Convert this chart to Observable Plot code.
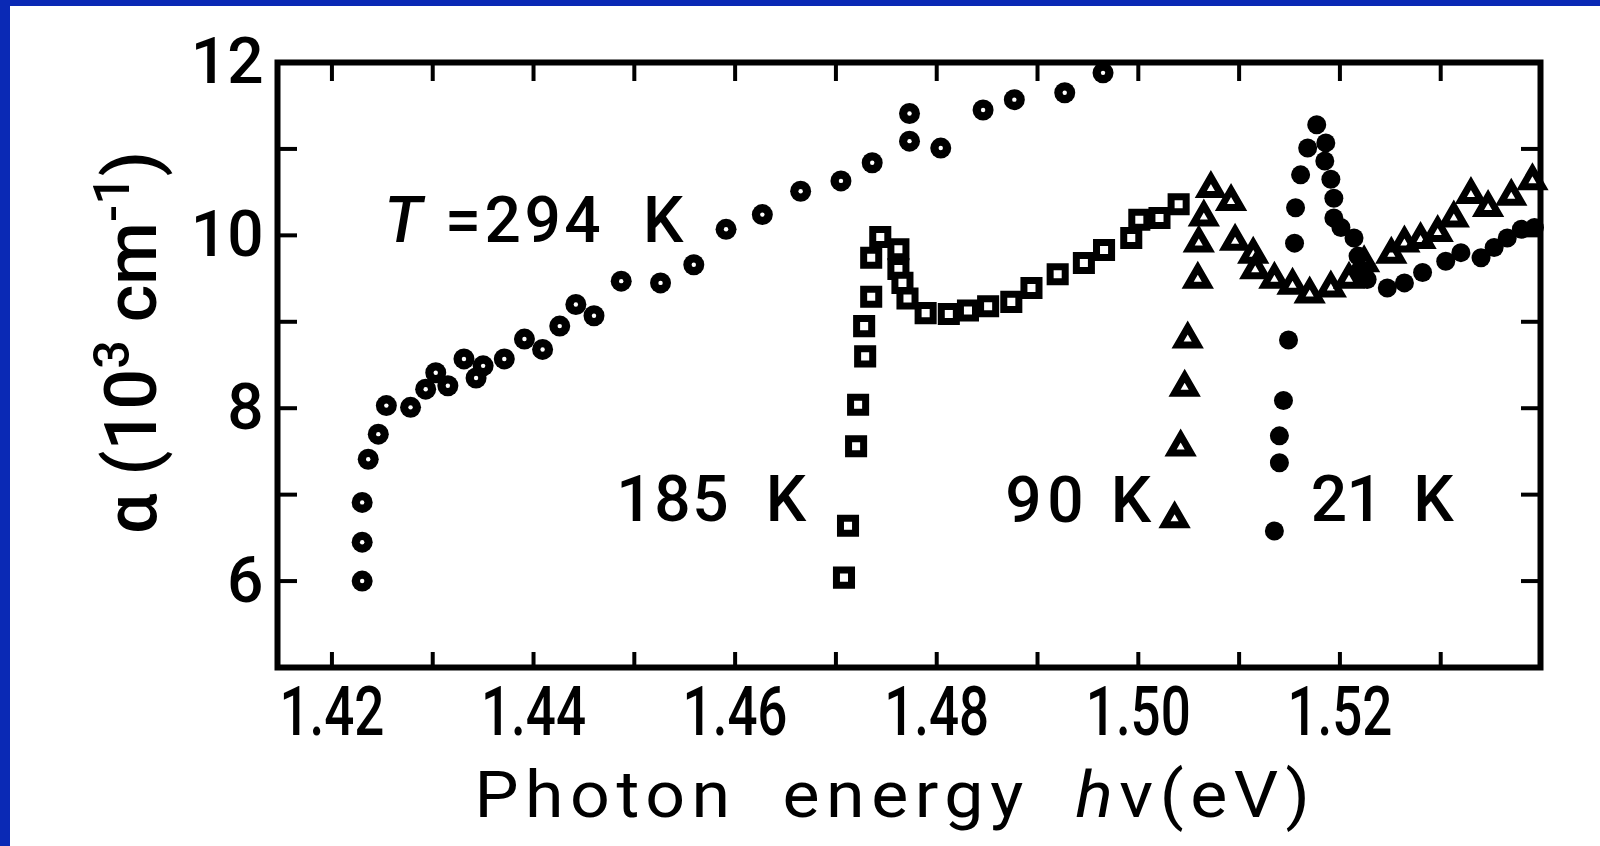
<!DOCTYPE html>
<html><head><meta charset="utf-8">
<script src="https://cdn.jsdelivr.net/npm/d3@7"></script>
<script src="https://cdn.jsdelivr.net/npm/@observablehq/plot@0.6"></script>
<style>
html,body{margin:0;padding:0;background:#0a29b5;width:1600px;height:846px;overflow:hidden;}
#chart{position:absolute;left:10px;top:6px;width:1590px;height:840px;background:#fff;}
</style></head><body><div id="chart"></div>
<script>
// T = 294 K (ring circles)
const x294 = [1.4230,1.4230,1.4230,1.4236,1.4246,1.4254,1.4278,1.4293,1.4303,1.4315,1.4331,1.4343,1.4350,1.4371,1.4391,1.4409,1.4426,1.4442,1.4460,1.4487,1.4526,1.4559,1.4591,1.4627,1.4665,1.4705,1.4736,1.4773,1.4773,1.4804,1.4846,1.4877,1.4927,1.4965];
const y294 = [6.00,6.45,6.91,7.41,7.70,8.03,8.01,8.22,8.41,8.26,8.57,8.35,8.49,8.57,8.80,8.68,8.95,9.20,9.07,9.47,9.45,9.66,10.07,10.24,10.51,10.63,10.84,11.09,11.41,11.01,11.45,11.57,11.65,11.88];
// 185 K (open squares)
const x185 = [1.4708,1.4712,1.4720,1.4722,1.4729,1.4728,1.4735,1.4735,1.4744,1.4762,1.4762,1.4766,1.4771,1.4789,1.4812,1.4831,1.4851,1.4874,1.4894,1.4920,1.4946,1.4966,1.4993,1.5001,1.5021,1.5040];
const y185 = [6.04,6.64,7.56,8.04,8.60,8.95,9.29,9.74,9.98,9.84,9.61,9.45,9.27,9.10,9.09,9.13,9.18,9.23,9.39,9.55,9.68,9.83,9.97,10.18,10.20,10.36];
// 90 K (open triangles)
const x90 = [1.5036,1.5042,1.5046,1.5049,1.5059,1.5060,1.5065,1.5072,1.5092,1.5096,1.5114,1.5116,1.5135,1.5153,1.5170,1.5191,1.5209,1.5224,1.5251,1.5264,1.5280,1.5297,1.5313,1.5330,1.5347,1.5370,1.5391];
const y90 = [6.72,7.55,8.24,8.80,9.49,9.91,10.21,10.54,10.39,9.93,9.78,9.60,9.49,9.42,9.32,9.39,9.49,9.68,9.78,9.91,9.95,10.03,10.20,10.47,10.32,10.45,10.63];
// 21 K (filled dots)
const x21 = [1.5135,1.5140,1.5140,1.5144,1.5149,1.5155,1.5156,1.5161,1.5168,1.5177,1.5186,1.5185,1.5191,1.5194,1.5194,1.5201,1.5214,1.5218,1.5224,1.5227,1.5247,1.5264,1.5282,1.5305,1.5320,1.5340,1.5353,1.5366,1.5380,1.5393];
const y21 = [6.58,7.37,7.68,8.09,8.79,9.91,10.32,10.70,11.01,11.28,11.07,10.86,10.65,10.43,10.20,10.09,9.97,9.76,9.59,9.49,9.39,9.45,9.57,9.70,9.80,9.74,9.86,9.97,10.07,10.09];

// axes
const xMinorTicks = [1.42,1.43,1.44,1.45,1.46,1.47,1.48,1.49,1.50,1.51,1.52,1.53];
const xLabelTicks = [1.42,1.44,1.46,1.48,1.50,1.52];
const xTickLabels = ["1.42","1.44","1.46","1.48","1.50","1.52"];
const yMinorTicks = [6,7,8,9,10,11];
const yLabelTicks = [6,8,10,12];
const yTickLabels = ["6","8","10","12"];

// annotation labels (data coordinates)
const annText = ["185  K","90 K","21  K"];
const annX = [1.4482,1.4868,1.5171];
const annY = [6.70,6.68,6.70];
const tempText = ["T =294  K"];
const tempX = [1.4252];
const tempY = [9.92];
const xTitle = "Photon energy hv(eV)";
const yTitle = "α (10³ cm⁻¹)";

const rows = (xs, ys) => xs.map((x, i) => ({x, y: ys[i]}));
const d294 = rows(x294, y294), d185 = rows(x185, y185), d90 = rows(x90, y90), d21 = rows(x21, y21);
const ann = annText.map((t, i) => ({t, x: annX[i], y: annY[i]}));
const temp = tempText.map((t, i) => ({t, x: tempX[i], y: tempY[i]}));

const plot = Plot.plot({
  width: 1590, height: 840,
  marginLeft: 267, marginRight: 60, marginTop: 56, marginBottom: 179,
  style: {fontFamily: "Roboto, 'DejaVu Sans', sans-serif", fontSize: "64px", fontWeight: 500, background: "white", color: "black", overflow: "visible"},
  x: {domain: [1.4146, 1.5399]},
  y: {domain: [5, 12]},
  marks: [
    Plot.axisX({anchor: "bottom", ticks: xMinorTicks, tickSize: -15, tickFormat: () => "", strokeWidth: 4, label: null}),
    Plot.axisX({anchor: "top", ticks: xMinorTicks, tickSize: -18, tickFormat: () => "", strokeWidth: 4, label: null}),
    Plot.axisY({anchor: "left", ticks: yMinorTicks, tickSize: -20, tickFormat: () => "", strokeWidth: 4, label: null}),
    Plot.axisY({anchor: "right", ticks: yMinorTicks, tickSize: -20, tickFormat: () => "", strokeWidth: 4, label: null}),
    Plot.axisX({anchor: "bottom", ticks: xLabelTicks, tickFormat: d => xTickLabels[xLabelTicks.indexOf(d)], tickSize: 0, tickPadding: 19, label: null, fontSize: 68}),
    Plot.axisY({anchor: "left", ticks: yLabelTicks, tickFormat: d => yTickLabels[yLabelTicks.indexOf(d)], tickSize: 0, tickPadding: 14, label: null, fontSize: 64}),
    Plot.frame({stroke: "black", strokeWidth: 6}),
    Plot.dot(d294, {x: "x", y: "y", r: 10.5, fill: "black"}),
    Plot.dot(d294, {x: "x", y: "y", r: 2.2, fill: "white"}),
    Plot.dot(d185, {x: "x", y: "y", symbol: "square", r: 8.5, fill: "white", stroke: "black", strokeWidth: 7}),
    Plot.dot(d90, {x: "x", y: "y", symbol: "triangle", r: 7.5, fill: "white", stroke: "black", strokeWidth: 7, strokeLinejoin: "miter"}),
    Plot.dot(d21, {x: "x", y: "y", r: 9.5, fill: "black"}),
    Plot.text(ann, {x: "x", y: "y", text: "t", textAnchor: "start", lineAnchor: "bottom", fontSize: 64, fill: "black"}),
    Plot.text(temp, {x: "x", y: "y", text: "t", textAnchor: "start", lineAnchor: "bottom", fontSize: 64, fill: "black"}),
    Plot.text([xTitle], {x: () => 1.4759, y: () => 3.268, text: d => d, textAnchor: "middle", lineAnchor: "bottom", fontSize: 64, fontWeight: 400, fill: "black"}),
    Plot.text([yTitle], {x: () => 1.40255, y: () => 8.76, text: d => d, rotate: -90, textAnchor: "middle", lineAnchor: "bottom", fontSize: 72, fill: "black"})
  ]
});
document.getElementById("chart").appendChild(plot);

const annLen = {"185  K": 190, "90 K": 146, "21  K": 143};
d3.select(plot).selectAll("text").each(function() {
  const t = d3.select(this);
  const s = this.textContent;
  if (xTickLabels.includes(s)) {
    t.attr("textLength", 105).attr("lengthAdjust", "spacingAndGlyphs");
  } else if (s in annLen) {
    t.attr("textLength", annLen[s]).attr("lengthAdjust", "spacing");
  } else if (s === tempText[0]) {
    t.text("");
    t.append("tspan").attr("font-style", "italic").text(s.slice(0, 1));
    t.append("tspan").text(s.slice(1));
    t.attr("textLength", 299).attr("lengthAdjust", "spacing");
  } else if (s === xTitle) {
    const k = s.indexOf("hv");
    t.text("");
    t.append("tspan").text(s.slice(0, k));
    t.append("tspan").attr("font-style", "italic").text("h");
    t.append("tspan").text(s.slice(k + 1));
    t.attr("letter-spacing", 6).attr("word-spacing", 20)
     .attr("textLength", 842).attr("lengthAdjust", "spacingAndGlyphs");
  } else if (s === yTitle) {
    t.text("");
    t.append("tspan").text("α (10");
    t.append("tspan").attr("font-size", "70%").attr("baseline-shift", "55%").text("3");
    t.append("tspan").text(" cm");
    t.append("tspan").attr("font-size", "70%").attr("baseline-shift", "55%").text("-1");
    t.append("tspan").text(")");
  }
});
</script></body></html>
